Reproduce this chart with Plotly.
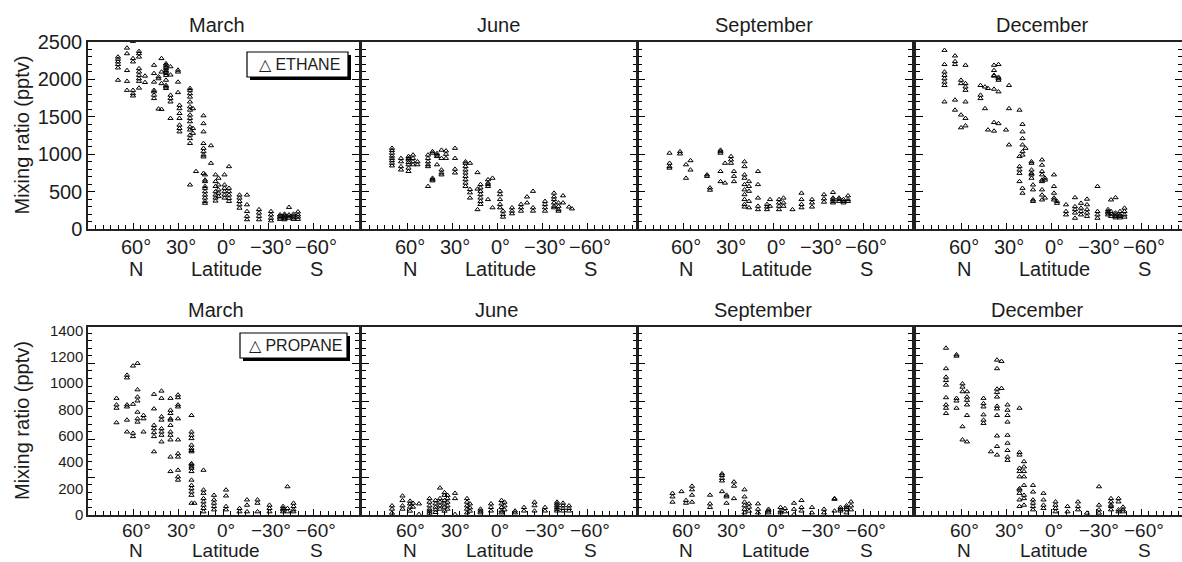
import plotly.graph_objects as go

W, H = 1182, 562

MONTHS = ["March", "June", "September", "December"]

# ---- ETHANE (pptv); column latitudes and the values stacked at each ----
ETH_MAR_LAT = [70, 64, 60, 56, 52, 46, 43, 41, 38, 35, 30, 29, 22, 20, 18, 13, 12, 8, 5, 3, -1, -4, -11, -16, -24, -32, -38, -41, -44, -47, -50]
ETH_MAR_VAL = [
    [2300, 2270, 2235, 2200, 2155, 1990], [2420, 2345, 2120, 1975, 1855], [2510, 2280, 2235, 1855, 1810, 1780],
    [2375, 2345, 2300, 2145, 2100, 2055, 2010, 1975, 1885], [2045, 1960], [2190, 2080, 1965, 1855, 1835, 1790, 1745],
    [2035, 2010, 1605], [2280, 2100, 1945, 1600], [2210, 2190, 2165, 2145, 2120, 2100, 2080, 2055, 1990, 1920, 1900, 1880],
    [2170, 2060, 1790, 1745, 1700, 1480], [2125, 2100, 1965, 1825], [1655, 1610, 1545, 1480, 1390, 1345, 1300],
    [1880, 1855, 1810, 1765, 1700, 1635, 1590, 1525, 1480, 1435, 1365, 1325, 1255, 1210, 1145, 590],
    [1610, 1345, 1280], [770], [1515, 1410, 1300, 1145, 1080, 1035, 990, 965, 745],
    [725, 655, 635, 570, 545, 500, 455, 415, 370, 345], [1115, 880], [725, 635, 570, 500, 455, 415, 375],
    [680, 590, 525, 480, 435], [725, 590, 545, 500, 455, 415], [835, 545, 500, 455, 410, 370],
    [455, 415, 370, 325, 280], [455, 325, 235, 170, 125], [260, 215, 170, 125], [235, 190, 145, 110],
    [190, 170, 150, 130], [200, 180, 160, 140, 125], [290, 190, 165, 145], [200, 175, 150, 130], [230, 190, 160, 130],
]
ETH_JUN_LAT = [70, 64, 59, 56, 53, 46, 43, 40, 37, 34, 28, 21, 18, 13, 11, 6, 3, -2, -4, -10, -16, -20, -24, -32, -38, -41, -44, -48, -50]
ETH_JUN_VAL = [
    [1080, 1050, 1015, 975, 945, 915, 880, 845], [945, 900, 835, 790], [970, 945, 925, 890, 860, 815, 770],
    [990, 945, 900, 860], [900, 860], [990, 945, 900, 860, 835, 570], [1035, 1015, 680, 660, 645],
    [1010, 990, 970, 860], [1055, 945, 790, 750, 725], [1045, 1000, 945], [1080, 945, 800, 750],
    [900, 880, 835, 790, 750, 705, 660, 615, 570], [880, 530, 485, 415], [755, 535, 260],
    [595, 550, 505, 460, 415, 370, 330], [660, 615, 595, 570, 395], [680, 285], [505, 460, 395, 330, 285],
    [240, 195, 160], [285, 240, 205], [330, 285, 240], [430, 350], [505, 285, 240], [370, 330, 285, 240],
    [480, 430, 395, 350, 305, 285], [350, 305, 260, 240], [445, 350], [295], [270],
]
ETH_SEP_LAT = [69, 62, 58, 55, 44, 42, 35, 32, 28, 26, 19, 16, 10, 4, 2, -4, -7, -13, -19, -26, -34, -40, -44, -47, -50]
ETH_SEP_VAL = [
    [1015, 880, 835, 815], [1035, 1005], [860, 680], [915, 790], [725, 705], [550, 520],
    [1055, 1035, 1015, 770, 635], [880, 615], [970, 925, 880], [770, 705, 635],
    [900, 835, 725, 680, 595, 525, 460, 395, 330, 295], [635, 570, 505, 370, 285], [770, 595, 415, 305, 260],
    [330, 295, 260], [395, 305], [395, 350, 305, 260], [415, 350, 305], [260], [480, 395, 330, 285],
    [395, 350, 295], [460, 405, 360], [490, 415, 395, 370, 350], [415, 395, 370], [395, 370, 350], [445, 395, 370],
]
ETH_DEC_LAT = [71, 64, 60, 57, 47, 44, 42, 38, 35, 30, 28, 21, 19, 17, 13, 12, 6, 4, -2, -4, -10, -16, -20, -24, -31, -38, -40, -43, -46, -49]
ETH_DEC_VAL = [
    [2390, 2200, 2100, 2055, 2010, 1965, 1920, 1700], [2315, 2240, 2200, 1725, 1590], [1990, 1945, 1525, 1355],
    [2190, 1945, 1900, 1855, 1700, 1480, 1380], [1920, 1790, 1745], [1900, 1610], [1880, 1325],
    [2190, 2120, 2055, 2045, 1870, 1425, 1310], [2200, 2030, 2010, 1990, 1835, 1410], [1325], [1920, 1610, 1125],
    [1590, 970, 835, 790, 745, 635], [1400, 1300, 1210, 1125, 1035, 990, 545, 480], [1080],
    [900, 880, 790, 745, 725, 680], [590, 525, 390, 370], [925, 855, 770, 725, 655, 635, 525, 455, 390],
    [680, 655, 415], [725, 570, 480, 415, 390], [370, 345], [325, 235, 190], [420, 300, 260, 215, 145],
    [345, 280, 235, 190], [400, 325, 260, 215, 170], [570, 235, 190, 145], [260, 235, 215, 190],
    [390, 235, 200, 170], [420, 215, 190, 170, 150], [235, 190, 170, 150], [280, 235, 190, 160],
]

# ---- PROPANE (pptv) ----
PRO_MAR_LAT = [71, 64, 60, 57, 53, 46, 41, 35, 30, 21, 19, 13, 6, -2, -11, -16, -23, -31, -40, -43, -47]
PRO_MAR_VAL = [
    [885, 835, 810, 700], [1060, 1040, 835, 820, 720, 630], [1130, 840, 620, 595],
    [1150, 950, 895, 865, 780, 730, 705], [755, 730, 630], [915, 805, 680, 655, 625, 595, 480],
    [940, 885, 745, 720, 655, 630, 605, 555], [885, 795, 770, 730, 720, 680, 630, 605, 570, 440, 330],
    [910, 890, 835, 820, 730, 570, 465, 440, 340, 290, 265],
    [755, 630, 605, 580, 530, 505, 490, 480, 390, 380, 365, 355, 330, 265, 225, 200, 175, 150, 90],
    [90], [340, 190, 165, 125, 100, 75, 50, 25], [150, 115, 90, 65, 40], [190, 145, 65, 40], [50, 25],
    [115, 75, 25], [115, 90, 25], [75, 50, 25], [65, 50, 40, 25], [215, 50, 25], [90, 65, 40, 25],
]
PRO_JUN_LAT = [70, 63, 58, 56, 52, 45, 41, 38, 35, 33, 28, 20, 18, 11, 4, -3, -5, -12, -18, -25, -32, -40, -44, -48]
PRO_JUN_VAL = [
    [70, 45, 15], [145, 110, 70, 45], [105, 85, 60, 30], [90, 60], [85, 5], [125, 98, 70, 45, 30, 15],
    [110, 85, 60, 40, 20], [205, 125, 98, 70, 45], [170, 150, 110, 85, 60, 30], [150, 125, 98, 70, 45],
    [165, 125, 5], [125, 98, 70, 45, 17], [85, 55, 30], [45, 30, 17], [85, 58, 31], [111, 85, 58, 31, 17],
    [98, 70, 40], [31, 17], [58, 31], [98, 71, 31], [58, 31], [98, 85, 71, 58, 44, 31], [90, 70, 50, 31], [70, 50, 31],
]
PRO_SEP_LAT = [67, 61, 58, 54, 42, 34, 31, 26, 19, 16, 10, 3, -5, -8, -14, -19, -26, -34, -41, -45, -49, -52]
PRO_SEP_VAL = [
    [165, 138, 98], [178], [111, 90], [219, 192, 151, 98], [151, 85, 58], [313, 300, 278, 259, 178],
    [151, 138, 90], [251, 219, 125], [192, 138, 98, 71, 44, 17], [85, 60, 30], [85, 44, 17], [44, 31, 17],
    [58, 31, 17], [50, 25], [90, 44, 4], [111, 58, 31], [58, 17], [44, 17], [125, 120, 31], [58, 44, 31],
    [71, 58, 44, 17], [100, 70, 40],
]
PRO_DEC_LAT = [70, 63, 59, 56, 45, 40, 36, 33, 29, 21, 18, 12, 5, -3, -11, -18, -24, -32, -40, -45, -48]
PRO_DEC_VAL = [
    [1265, 1110, 1045, 1020, 985, 890, 835, 810, 770], [1215, 1205, 885, 865, 810], [995, 970, 935, 670, 570],
    [935, 895, 870, 835, 755, 555], [885, 845, 820, 760, 720, 695], [480],
    [1175, 1110, 955, 930, 895, 825, 805, 755, 600, 520, 455], [1165, 960],
    [835, 795, 755, 705, 605, 545, 490, 440, 415], [810, 475, 455, 355, 330, 290, 200, 190, 165, 115, 65],
    [405, 365, 330, 290, 225, 150, 125, 75], [225, 175, 115, 90, 65, 40], [165, 115, 75, 50], [100, 75, 50, 25],
    [65, 25], [100, 65, 40], [15], [215, 75, 40, 15], [125, 100, 75, 65, 40], [125, 100, 40, 25], [60, 40, 25],
]

X_TICKVALS = [60, 30, 0, -30, -60]
X_TICKTEXT = ["60°", "30°", "0°", "−30°", "−60°"]
ETH_YTICKS = [0, 500, 1000, 1500, 2000, 2500]
PRO_YTICKS = [0, 200, 400, 600, 800, 1000, 1200, 1400]

FONT = "Liberation Sans, Arial, Helvetica, sans-serif"
INK = "#1c1c1c"

# panel pixel boxes (left, right) and rows (top, bottom)
COLS = [(88, 359), (362, 637), (638, 912), (916, 1182)]
ROWS = [(42, 229), (327, 515)]
TITLE_X = [[217, 498, 764, 1042], [216, 496, 763, 1037]]
TITLE_Y = [25, 310]
# per row: (degree-label offset, N/Latitude/S offset, font size) below the x axis
XLAB = [(18, 40, 20), (15, 35, 19)]


def px(x):
    return x / W


def py(y):
    return 1 - y / H


def flatten(lats, groups):
    xs, ys = [], []
    for la, g in zip(lats, groups):
        for v in g:
            xs.append(la)
            ys.append(v)
    return xs, ys


data = [
    [(ETH_MAR_LAT, ETH_MAR_VAL), (ETH_JUN_LAT, ETH_JUN_VAL), (ETH_SEP_LAT, ETH_SEP_VAL), (ETH_DEC_LAT, ETH_DEC_VAL)],
    [(PRO_MAR_LAT, PRO_MAR_VAL), (PRO_JUN_LAT, PRO_JUN_VAL), (PRO_SEP_LAT, PRO_SEP_VAL), (PRO_DEC_LAT, PRO_DEC_VAL)],
]

fig = go.Figure()
layout = dict(
    width=W, height=H, margin=dict(l=0, r=0, t=0, b=0, pad=0, autoexpand=False),
    paper_bgcolor="white", plot_bgcolor="white", showlegend=False,
    font=dict(family=FONT, color=INK, size=20),
)
annotations = []
shapes = []


def text_ann(txt, xpix, ypix, size):
    return dict(text=txt, x=px(xpix), y=py(ypix), xref="paper", yref="paper",
                showarrow=False, xanchor="center", yanchor="middle", borderpad=0,
                font=dict(size=size, color=INK, family=FONT))


for r in range(2):
    top, bot = ROWS[r]
    tick_off, lab_off, lab_size = XLAB[r]
    for c in range(4):
        k = r * 4 + c + 1
        left, right = COLS[c]
        xs, ys = flatten(*data[r][c])
        fig.add_trace(go.Scatter(
            x=xs, y=ys, mode="markers", xaxis=f"x{k}", yaxis=f"y{k}",
            marker=dict(symbol="triangle-up-open", size=4.5, color="black", line=dict(width=1, color="black")),
            hoverinfo="skip",
        ))
        width_px = right - left
        layout[f"xaxis{k}"] = dict(
            domain=[px(left), px(right)], anchor=f"y{k}", automargin=False,
            range=[90, 90 - width_px / 1.5],
            tickmode="array", tickvals=X_TICKVALS, ticktext=X_TICKTEXT,
            ticks="inside", ticklen=6, tickwidth=1, tickcolor="black",
            minor=dict(tickmode="linear", tick0=0, dtick=5, ticks="inside", ticklen=4, tickwidth=1, tickcolor="black"),
            showline=True, linecolor="#222", linewidth=1.5, mirror=True,
            showgrid=False, zeroline=False, showticklabels=False,
        )
        ydom = [py(bot), py(top)]
        if r == 0:
            layout[f"yaxis{k}"] = dict(
                domain=ydom, anchor=f"x{k}", range=[0, 2500], automargin=False,
                tickmode="array", tickvals=ETH_YTICKS, ticktext=[str(v) for v in ETH_YTICKS],
                ticks="inside", ticklen=7, tickwidth=1, tickcolor="black",
                minor=dict(tickmode="linear", tick0=0, dtick=100, ticks="inside", ticklen=4, tickwidth=1, tickcolor="black"),
                showline=True, linecolor="#222", linewidth=1.5, mirror="ticks",
                showgrid=False, zeroline=False, showticklabels=(c == 0),
                tickfont=dict(size=20, color=INK, family=FONT),
            )
        else:
            layout[f"yaxis{k}"] = dict(
                domain=ydom, anchor=f"x{k}", range=[0, 1425], automargin=False,
                tickmode="array", tickvals=PRO_YTICKS, ticktext=[str(v) for v in PRO_YTICKS],
                ticks="", showline=True, linecolor="#222", linewidth=1.5, mirror=True,
                showgrid=False, zeroline=False, showticklabels=(c == 0),
                tickfont=dict(size=15, color=INK, family=FONT),
            )
            # tick marks of the bottom row follow the 500/100 pattern of the top row
            ko = 8 + c + 1
            layout[f"yaxis{ko}"] = dict(
                overlaying=f"y{k}", anchor=f"x{k}", side="left", range=[0, 2480], automargin=False,
                tickmode="linear", tick0=0, dtick=500,
                ticks="inside", ticklen=7, tickwidth=1, tickcolor="black",
                minor=dict(tickmode="linear", tick0=0, dtick=100, ticks="inside", ticklen=4, tickwidth=1, tickcolor="black"),
                showline=False, mirror="ticks", showgrid=False, zeroline=False, showticklabels=False,
            )
            fig.add_trace(go.Scatter(x=[None], y=[None], xaxis=f"x{k}", yaxis=f"y{ko}",
                                     mode="markers", hoverinfo="skip"))

        # degree labels under the ticks
        for lat, txt in zip(X_TICKVALS, X_TICKTEXT):
            annotations.append(text_ann(txt, left + (90 - lat) * 1.5 + 3, bot + tick_off, lab_size))
        # month title
        annotations.append(text_ann(MONTHS[c], TITLE_X[r][c], TITLE_Y[r], 20))
        # N / Latitude / S line under the degree labels
        for lat, txt in [(60, "N"), (0, "Latitude"), (-60, "S")]:
            annotations.append(text_ann(txt, left + (90 - lat) * 1.5 + 3, bot + lab_off, lab_size))

    # y-axis title
    ya = text_ann("Mixing ratio (pptv)", 22, (top + bot) / 2, 20)
    ya["textangle"] = -90
    annotations.append(ya)

# legend boxes (with drop shadow)
LEG = [("△ ETHANE", 247, 348, 52, 77), ("△ PROPANE", 240, 347, 333, 358)]
for txt, x0, x1, y0, y1 in LEG:
    shapes.append(dict(type="rect", xref="paper", yref="paper",
                       x0=px(x0 + 3), x1=px(x1 + 3), y0=py(y1 + 3), y1=py(y0 + 3),
                       fillcolor="black", line=dict(width=0), layer="above"))
    shapes.append(dict(type="rect", xref="paper", yref="paper",
                       x0=px(x0), x1=px(x1), y0=py(y1), y1=py(y0),
                       fillcolor="white", line=dict(width=1.2, color="black"), layer="above"))
    annotations.append(text_ann(txt, (x0 + x1) / 2 + 2, (y0 + y1) / 2, 16))

layout["annotations"] = annotations
layout["shapes"] = shapes
fig.update_layout(**layout)
# remove the browser's default page margin so the figure sits at the top-left corner
fig.write_html("out.html", config={"displayModeBar": False},
               post_script="document.body.style.margin='0px';document.body.style.overflow='hidden';")
